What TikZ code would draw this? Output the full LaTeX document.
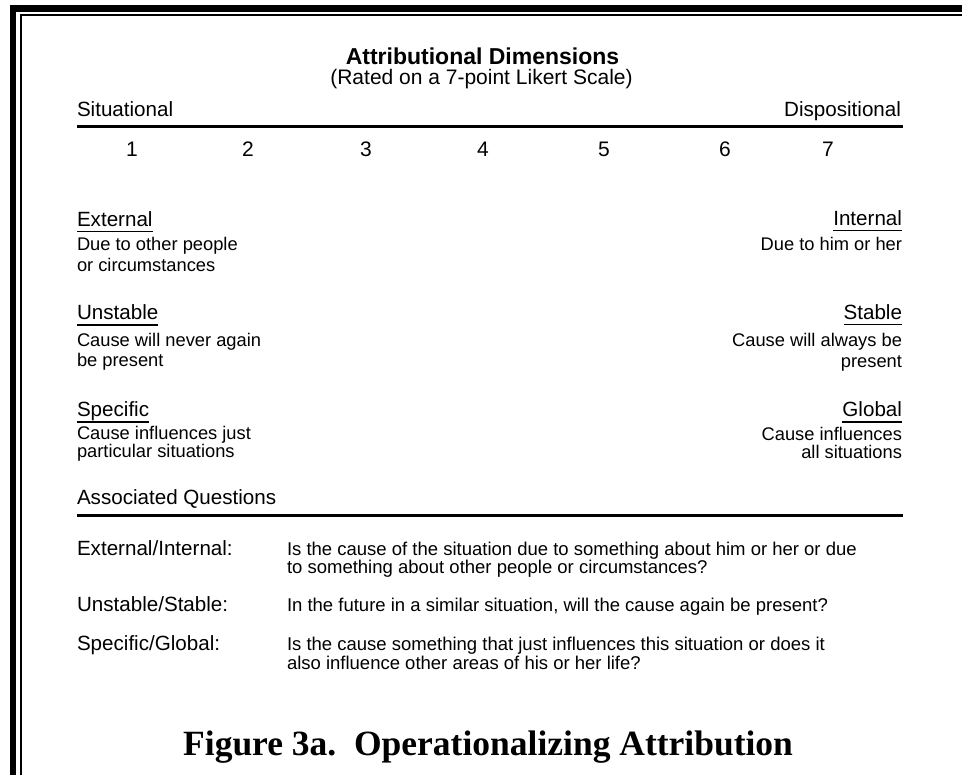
\documentclass[tikz,border=0pt]{standalone}
\usepackage{fontspec}
\setmainfont{Liberation Sans}
\newfontfamily\figserif{Liberation Serif}
\begin{document}
\begin{tikzpicture}[x=1pt,y=-1pt,
  txt/.style={inner sep=0pt,outer sep=0pt,font=\fontsize{20.6}{24}\selectfont},
  lw/.style={txt,anchor=base west},
  le/.style={txt,anchor=base east},
  desc/.style={inner sep=0pt,outer sep=0pt,font=\fontsize{18.3}{21}\selectfont},
  dw/.style={desc,anchor=base west},
  de/.style={desc,anchor=base east},
  qtext/.style={inner sep=0pt,outer sep=0pt,anchor=base west,font=\fontsize{18.5}{21}\selectfont},
  num/.style={txt,anchor=base,font=\fontsize{21}{24}\selectfont},
  rulebar/.style={line width=3pt},
  uline/.style={line width=1.3pt},
  frameouter/.style={line width=6.5pt},
  frameinner/.style={line width=2pt}]
\useasboundingbox (0,0) rectangle (962,775);
\fill[white] (0,0) rectangle (962,775);
% frame
\coordinate (fo1) at (13,775); \coordinate (fo2) at (13,8.3); \coordinate (fo3) at (962,8.3);
\coordinate (fi1) at (21,775); \coordinate (fi2) at (21,14.8); \coordinate (fi3) at (962,14.8);
\draw[frameouter] (fo1) -- (fo2) -- (fo3);
\draw[frameinner] (fi1) -- (fi2) -- (fi3);
% titles
\node[inner sep=0pt,anchor=base,font=\fontsize{23}{26}\selectfont\bfseries] (title) at (482.5,65) {Attributional Dimensions};
\node[inner sep=0pt,anchor=base,font=\fontsize{21}{24}\selectfont] (subtitle) at (481.5,85) {(Rated on a 7-point Likert Scale)};
% scale header
\node[lw] (sit) at (77,117) {Situational};
\node[le] (disp) at (901,117) {Dispositional};
\coordinate (r1a) at (77,126.5); \coordinate (r1b) at (903,126.5);
\draw[rulebar] (r1a) -- (r1b);
\node[num] (n1) at (132,157) {1};
\node[num] (n2) at (248,157) {2};
\node[num] (n3) at (366,157) {3};
\node[num] (n4) at (483,157) {4};
\node[num] (n5) at (604,157) {5};
\node[num] (n6) at (725,157) {6};
\node[num] (n7) at (828,157) {7};
% dimension pairs
\node[lw] (ext) at (77,226.5) {External};
\draw[uline] ([yshift=-5pt]ext.base west) -- ([yshift=-5pt]ext.base east);
\node[dw] (ext1) at (77,251) {Due to other people};
\node[dw] (ext2) at (77,272) {or circumstances};
\node[le] (int) at (902,225.5) {Internal};
\draw[uline] ([yshift=-5pt]int.base west) -- ([yshift=-5pt]int.base east);
\node[de] (int1) at (902,251) {Due to him or her};

\node[lw] (uns) at (77,320) {Unstable};
\draw[uline] ([yshift=-5pt]uns.base west) -- ([yshift=-5pt]uns.base east);
\node[dw] (uns1) at (77,347) {Cause will never again};
\node[dw] (uns2) at (77,367) {be present};
\node[le] (sta) at (902,319.5) {Stable};
\draw[uline] ([yshift=-5pt]sta.base west) -- ([yshift=-5pt]sta.base east);
\node[de] (sta1) at (902,347) {Cause will always be};
\node[de] (sta2) at (902,368) {present};

\node[lw] (spe) at (77,417) {Specific};
\draw[uline] ([yshift=-5pt]spe.base west) -- ([yshift=-5pt]spe.base east);
\node[dw] (spe1) at (77,440) {Cause influences just};
\node[dw] (spe2) at (77,458) {particular situations};
\node[le] (glo) at (902,417) {Global};
\draw[uline] ([yshift=-5pt]glo.base west) -- ([yshift=-5pt]glo.base east);
\node[de] (glo1) at (902,441) {Cause influences};
\node[de] (glo2) at (902,459) {all situations};
% questions
\node[lw] (aq) at (77,505) {Associated Questions};
\coordinate (r2a) at (77,516); \coordinate (r2b) at (903,516);
\draw[rulebar] (r2a) -- (r2b);
\node[lw] (q1l) at (77,555) {External/Internal:};
\node[qtext] (q1a) at (287,555) {Is the cause of the situation due to something about him or her or due};
\node[qtext] (q1b) at (287,573) {to something about other people or circumstances?};
\node[lw] (q2l) at (77,612) {Unstable/Stable:};
\node[qtext] (q2a) at (287,612) {In the future in a similar situation, will the cause again be present?};
\node[lw] (q3l) at (77,650) {Specific/Global:};
\node[qtext] (q3a) at (287,650) {Is the cause something that just influences this situation or does it};
\node[qtext] (q3b) at (287,669) {also influence other areas of his or her life?};
% caption
\node[inner sep=0pt,anchor=base west,font=\figserif\bfseries\fontsize{35.5}{40}\selectfont] (cap) at (183,755) {Figure 3a.\ \ Operationalizing Attribution};
\end{tikzpicture}
\end{document}
